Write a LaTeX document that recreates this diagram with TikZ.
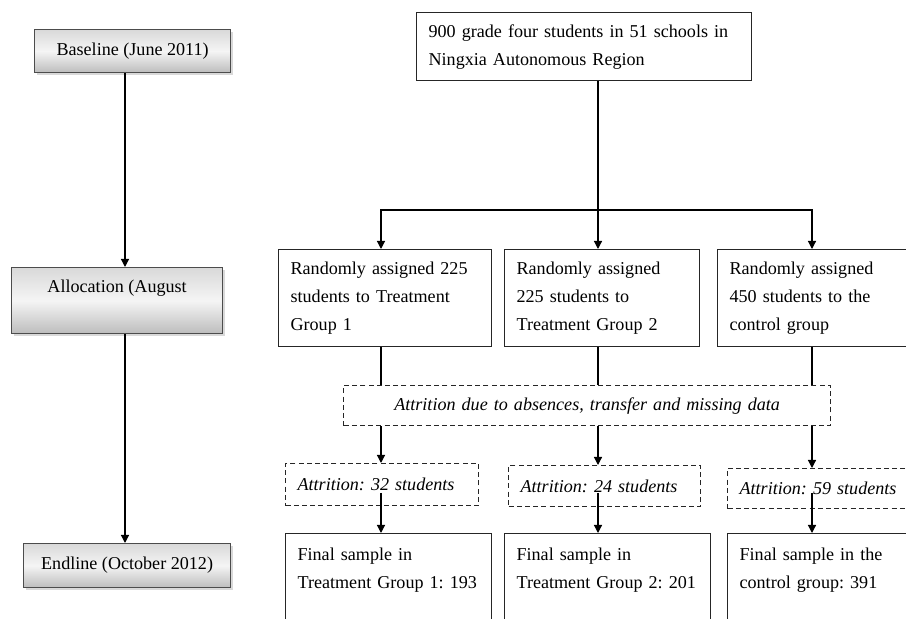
\documentclass[tikz,border=0pt]{standalone}
\usepackage{fontspec}
\setmainfont{Liberation Serif}
\usetikzlibrary{arrows.meta,shadows}

\newcommand{\flowfont}{\frenchspacing\fontsize{9.05pt}{14pt}\selectfont}

\tikzset{
  stagebox/.style={rectangle, draw=gray!60!black, top color=gray!30, bottom color=gray!52, middle color=gray!8, drop shadow={shadow xshift=1.2pt, shadow yshift=-1.2pt, opacity=0.3}, anchor=north west, align=center, inner sep=3pt, font=\flowfont},
  infobox/.style={rectangle, draw=black!85, fill=white, anchor=north west, align=left, inner xsep=6pt, inner ysep=3pt, font=\flowfont},
  lossbox/.style={infobox, dash pattern=on 2.5pt off 1.6pt, font=\flowfont\itshape}
}

\begin{document}
\begin{tikzpicture}[x=0.5pt, y=-0.5pt, line width=0.6pt, >={Triangle[length=4pt, width=4pt]}]
\useasboundingbox (0,0) rectangle (906,619);
\clip (0,0) rectangle (906,619);

\node [stagebox, minimum width=98pt, minimum height=21.5pt] (baseline) at (34,29) {Baseline (June 2011)};
\node [stagebox, minimum width=105.5pt, text height=9.5pt, text depth=17.5pt] (allocation) at (11,267) {Allocation (August};
\node [stagebox, minimum width=103.5pt, minimum height=22pt] (endline) at (23,543) {Endline (October 2012)};

\node [infobox, text width=155.5pt, minimum height=34pt] (pool) at (416,12) {900 grade four students in 51 schools in\\Ningxia Autonomous Region};
\node [infobox, text width=94.5pt, minimum height=48.5pt] (group1) at (278,249) {Randomly assigned 225\\students to Treatment\\Group 1};
\node [infobox, text width=85.5pt, minimum height=48.5pt] (group2) at (504,249) {Randomly assigned\\225 students to\\Treatment Group 2};
\node [infobox, text width=94.5pt, minimum height=48.5pt] (control) at (717,249) {Randomly assigned\\450 students to the\\control group};

\node [lossbox, text width=231.5pt, align=center, minimum height=20pt] (lossall) at (343,385) {Attrition due to absences, transfer and missing data};
\node [lossbox, text width=84.5pt, minimum height=21pt] (loss1) at (285,463) {Attrition: 32 students};
\node [lossbox, text width=84pt, minimum height=20.5pt] (loss2) at (508,465) {Attrition: 24 students};
\node [lossbox, text width=88pt, minimum height=20pt] (loss3) at (727,468) {Attrition: 59 students};

\node [infobox, text width=91pt, text height=10.25pt, text depth=30pt] (final1) at (285,533) {Final sample in\\Treatment Group 1: 193};
\node [infobox, text width=91pt, text height=10.25pt, text depth=30pt] (final2) at (504,533) {Final sample in\\Treatment Group 2: 201};
\node [infobox, text width=91pt, text height=10.25pt, text depth=30pt] (final3) at (727,533) {Final sample in the\\control group: 391};

\coordinate (spine) at (125,0);
\coordinate (split) at (598,210);
\coordinate (col1) at (381,493);
\coordinate (col2) at (598,493);
\coordinate (col3) at (812,493);

\draw [->] (baseline.south -| spine) -- (allocation.north -| spine);
\draw [->] (allocation.south -| spine) -- (endline.north -| spine);
\draw [->] (pool.south -| split) -- (group2.north -| split);
\draw [<->] (group1.north -| col1) |- (split) -| (control.north -| col3);
\foreach \g/\l/\f/\c in {group1/loss1/final1/col1, group2/loss2/final2/col2, control/loss3/final3/col3} {
  \draw (\g.south -| \c) -- (lossall.north -| \c);
  \draw [->] (lossall.south -| \c) -- (\l.north -| \c);
  \draw [->] (\c) -- (\f.north -| \c);
}
\end{tikzpicture}
\end{document}
